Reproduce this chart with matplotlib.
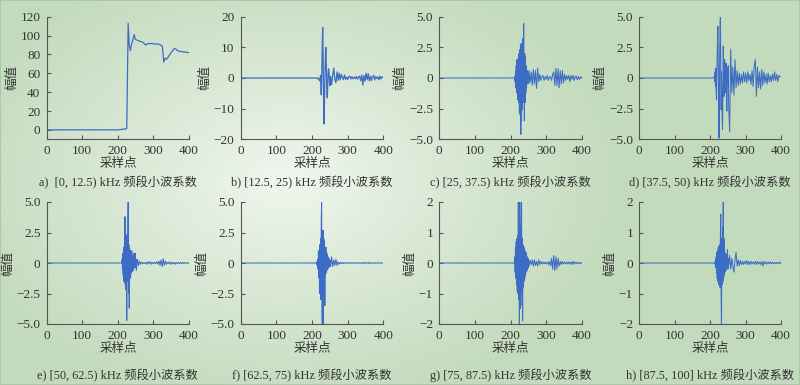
import numpy as np
import matplotlib
matplotlib.use('Agg')
import matplotlib.pyplot as plt
from matplotlib.colors import to_rgb

plt.rcParams['font.family'] = ['Liberation Serif', 'Noto Sans CJK SC']
plt.rcParams['font.size'] = 9

# ---- data (sample index vs amplitude) ----
# a) low band: explicit points
a_x = [0, 200, 222, 225, 229, 232, 235, 238, 242, 246, 249, 255, 262, 270,
       278, 284, 295, 305, 315, 320, 325, 329, 333, 337, 341, 346, 352, 358,
       362, 368, 378, 388, 398]
a_y = [0, 0, 1, 1.5, 113, 90, 84, 90, 95, 101, 96, 95, 94, 93,
       90, 91.5, 91.5, 91, 91, 90, 89, 72, 76, 75, 77, 80, 83, 86,
       86, 84, 83, 82.5, 82]

# b)-h): burst from sample 212 (one value per sample), tail to 400 (every ~3 samples)
burst_start = 212

b_burst = [0, 0, -0.1, 0, -0.2, -0.1, -0.3, -0.4, -0.5, -0.8,
           -1.0, 0.2, 0.8, -2.5, -5.5, -1, 5, 12, 16.5, 8,
           -2, -10, -15, -8, -1, 5, 9, 10, 5, -1,
           -5, -6.5, -3, 1, 2.8, 3, 1, -1.2, -2.5, -1.5]
b_tail = [0.5, -2.2, 1.0, 3.2, -0.5, -1.5, 2.0, -0.8, 1.6, -0.6,
          1.2, 0.2, -0.5, 1.0, -0.4, 0.3, -0.5, 0.4, 0.6, -0.3,
          0.4, -0.3, 0.3, -0.2, 0.5, -0.4, 0.3, 0.6, -0.9, 1.0,
          -2.3, 0.8, -1.0, 1.6, -0.6, 1.4, -0.9, 0.6, -0.8, 0.4,
          0.9, -0.6, 0.5, -0.2, 0.4, -0.6, 0.6, -0.3, 0.4, 0.2]

c_burst = [0.1, -0.3, 0.5, -0.8, 1.0, -1.2, 1.5, -1.0, 0.9, -1.8,
           1.6, -2.0, 2.0, -2.8, 2.3, -3.0, 2.7, -4.6, 2.8, -3.5,
           2.0, -2.6, 3.2, -2.0, -1.0, 4.45, 0.5, -3.5, 2.0, -2.0,
           1.7, -1.2, 1.0, -0.8, 0.5, -0.4, 0.6, -0.5, 0.3, -0.3]
c_tail = [0.6, -0.4, 0.5, -0.6, 0.7, -0.5, 0.6, -0.85, 0.8, -0.3,
          0.3, -0.2, 0.1, 0.2, -0.2, 0.1, -0.1, 0.2, -0.2, 0.1,
          0.1, -0.2, 0.3, 0.5, -0.6, 0.8, -0.65, 0.75, -0.8, 0.6,
          -0.5, 0.6, -0.4, 0.3, -0.2, 0.2, -0.1, 0.2, -0.3, 0.2,
          -0.1, 0.2, -0.2, 0.1, 0.15, -0.15, 0.1, -0.1, 0.1, 0.0]

d_burst = [0.2, -0.3, 0.5, -0.7, 0.8, -1.2, -1.8, 0.5, 2.0, 3.5,
           4.2, 1.0, -2.5, -4.9, -2.0, 2.0, 4.5, 4.95, 1.5, -2.6,
           0.5, -1.0, -3.2, -4.2, -1.0, 2.6, 1.0, -1.5, 0.8, 1.5,
           -0.5, -1.2, 0.5, 1.2, -0.8, -2.7, -1.0, 0.8, -0.5, 1.0]
d_tail = [-2.0, -4.4, 2.35, -1.2, 0.9, -1.4, 1.5, -0.8, 0.6, -0.6,
          0.4, -0.5, 0.3, -0.4, 0.5, -0.3, 0.4, -0.4, 0.5, -0.2,
          0.3, -0.5, 0.6, -0.7, 1.0, 1.5, -1.5, 0.9, -0.8, 0.5,
          -0.9, 0.7, -0.6, 0.5, -0.4, 0.3, -0.5, 0.4, -0.3, 0.2,
          -0.3, 0.3, -0.2, 0.5, -0.2, 0.3, -0.3, 0.2, 0.1, 0.1]

e_burst = [0.3, -0.5, 0.8, -1.0, 1.3, -1.5, 1.2, -1.6, 3.8, -1.8,
           1.5, -2.2, 2.3, -4.7, 1.8, -1.5, 2.5, 5.0, -2.5, 1.5,
           -3.7, 1.2, -1.3, 1.0, -1.1, 0.9, -0.8, 1.0, -0.7, 0.6,
           -0.5, 0.5, -0.6, 0.8, -0.4, 0.5, -0.3, 0.8, -0.4, 0.3]
e_tail = [-0.6, 0.3, -0.2, 0.15, -0.1, 0.05, -0.05, 0.05, -0.05, 0.05,
          -0.1, 0.1, -0.05, 0.1, -0.1, 0.05, -0.05, 0.05, -0.05, 0.1,
          -0.1, 0.15, -0.2, 0.25, -0.3, 0.35, -0.2, 0.15, -0.1, 0.05,
          -0.05, 0.1, -0.1, 0.05, -0.05, 0.05, -0.1, 0.05, -0.05, 0.05,
          -0.05, 0.05, -0.05, 0.05, -0.05, 0.03, -0.03, 0.03, -0.03, 0.0]

f_burst = [0.05, -0.1, 0.1, -0.2, 0.3, -0.5, 1.0, -1.2, 0.8, -2.5,
           1.5, -1.5, 2.0, -3.0, 3.5, 5.0, -4.0, -5.6, 1.5, 2.7,
           -5.6, 2.0, -1.5, 1.8, -3.5, 1.2, -1.0, 1.3, -0.8, 0.9,
           -0.6, 0.7, -0.5, 0.5, -0.4, 0.4, -0.3, 0.3, -0.3, 0.2]
f_tail = [-0.3, 0.5, -0.3, 0.25, -0.2, 0.3, -0.2, 0.1, -0.1, 0.05,
          -0.05, 0.05, -0.05, 0.03, -0.03, 0.02, -0.02, 0.02, -0.02, 0.02,
          -0.02, 0.02, -0.02, 0.02, -0.02, 0.02, -0.02, 0.02, -0.02, 0.02,
          -0.05, 0.05, -0.02, 0.02, -0.02, 0.05, -0.05, 0.02, -0.02, 0.02,
          -0.02, 0.02, -0.02, 0.02, -0.02, 0.01, -0.01, 0.01, -0.01, 0.0]

g_burst = [0.2, -0.3, 0.5, -0.5, 0.7, -0.7, 0.8, -0.9, 0.9, -1.0,
           2.2, -1.2, 1.5, -2.2, 2.2, -1.5, 1.2, -1.4, 1.0, 2.2,
           -1.0, 0.8, -1.9, 0.6, -0.8, 0.5, -0.6, 0.5, -0.5, 0.4,
           -0.4, 0.35, -0.3, 0.3, -0.25, 0.2, -0.2, 0.15, -0.15, 0.1]
g_tail = [-0.1, 0.08, -0.05, 0.1, -0.1, 0.1, -0.08, 0.05, -0.1, 0.1,
          -0.05, 0.05, -0.03, 0.03, -0.03, 0.03, -0.03, 0.03, -0.05, 0.05,
          -0.1, 0.15, -0.2, 0.25, -0.25, 0.2, -0.2, 0.15, -0.1, 0.05,
          -0.05, 0.05, -0.03, 0.03, -0.03, 0.03, -0.03, 0.03, -0.03, 0.03,
          -0.05, 0.05, -0.03, 0.03, -0.02, 0.02, -0.02, 0.02, -0.02, 0.0]

h_burst = [0.0, 0.02, -0.05, 0.1, -0.15, 0.2, -0.3, 0.35, -0.5, 0.4,
           -0.6, 0.5, -0.7, 0.55, -0.6, 0.6, -0.8, 1.0, 1.6, -1.0,
           -2.2, 0.8, -0.7, 1.2, -0.6, 2.0, -0.5, 0.8, -0.4, 0.4,
           -0.3, 0.3, -0.25, 0.3, -0.2, 0.2, -0.15, 0.45, -0.2, 0.15]
h_tail = [-0.15, 0.25, -0.2, 0.15, -0.1, -0.3, 0.1, 0.35, -0.1, 0.1,
          -0.08, 0.08, -0.05, 0.05, -0.05, 0.05, -0.03, 0.08, -0.05, 0.05,
          -0.05, 0.05, -0.03, 0.03, -0.03, 0.05, -0.05, 0.05, -0.03, 0.03,
          -0.05, 0.05, -0.1, 0.05, -0.03, 0.03, -0.03, 0.03, -0.03, 0.03,
          -0.02, 0.02, -0.02, 0.02, -0.02, 0.02, -0.02, 0.02, -0.02, 0.03]

captions = ['a)  [0, 12.5) kHz 频段小波系数', 'b) [12.5, 25) kHz 频段小波系数',
            'c) [25, 37.5) kHz 频段小波系数', 'd) [37.5, 50) kHz 频段小波系数',
            'e) [50, 62.5) kHz 频段小波系数', 'f) [62.5, 75) kHz 频段小波系数',
            'g) [75, 87.5) kHz 频段小波系数', 'h) [87.5, 100] kHz 频段小波系数']

x_ticks = [0, 100, 200, 300, 400]
yt_a = [0, 20, 40, 60, 80, 100, 120]
yt_b = [-20, -10, 0, 10, 20]
yt_5 = [-5, -2.5, 0, 2.5, 5]
yl_5 = ['\u22125.0', '\u22122.5', '0', '2.5', '5.0']
yt_2 = [-2, -1, 0, 1, 2]


def build(burst, tail):
    xb = burst_start + np.arange(len(burst))
    xt = np.linspace(burst_start + len(burst), 400, len(tail))
    x = np.concatenate([[0, burst_start - 1], xb, xt])
    y = np.concatenate([[0, 0], burst, tail])
    return x, y


series = [(np.array(a_x), np.array(a_y)), build(b_burst, b_tail),
          build(c_burst, c_tail), build(d_burst, d_tail),
          build(e_burst, e_tail), build(f_burst, f_tail),
          build(g_burst, g_tail), build(h_burst, h_tail)]
ylims = [(-10, 120), (-20, 20), (-5, 5), (-5, 5), (-5, 5), (-5, 5), (-2, 2), (-2, 2)]
yticks = [yt_a, yt_b, yt_5, yt_5, yt_5, yt_5, yt_2, yt_2]
yticklabels = [None, None, yl_5, yl_5, yl_5, yl_5, None, None]

W, H = 800, 385
fig = plt.figure(figsize=(W / 100, H / 100), dpi=100)

# soft green background with a light centre
bg = fig.add_axes([0, 0, 1, 1], zorder=-10)
gx, gy = np.meshgrid(np.arange(W), np.arange(H))
t = np.clip(np.sqrt(((gx - 285) / 340.0) ** 2 + ((gy - 180) / 230.0) ** 2), 0, 1) ** 0.9
c0 = np.array(to_rgb('#f1f7ef'))
c1 = np.array(to_rgb('#c3dbbd'))
img = c0[None, None, :] * (1 - t[..., None]) + c1[None, None, :] * t[..., None]
bg.imshow(img, extent=[0, W, H, 0], aspect='auto', interpolation='bilinear')
bg.set_xlim(0, W)
bg.set_ylim(H, 0)
bg.axis('off')
fig.patches.append(plt.Rectangle((0, 0), 1, 1, transform=fig.transFigure,
                                 fill=False, edgecolor='#a9c4a5', linewidth=1.2))

cols = [(46.7, 189.0), (240.7, 383.3), (439.3, 581.7), (639.3, 781.0)]
rows = [(16.7, 139.3), (202.0, 324.0)]
cap_y = [182.7, 375.3]

ink = '#333333'
for i, (x, y) in enumerate(series):
    r, c = divmod(i, 4)
    x0, x1 = cols[c]
    top, bot = rows[r]
    ax = fig.add_axes([x0 / W, 1 - bot / H, (x1 - x0) / W, (bot - top) / H])
    ax.set_facecolor('none')
    ax.plot(x, y, color='#3d6cc4', linewidth=0.9 if i < 2 else 0.75)
    ax.set_xlim(0, 400)
    ax.set_ylim(*ylims[i])
    ax.set_xticks(x_ticks)
    ax.set_yticks(yticks[i])
    if yticklabels[i] is not None:
        ax.set_yticklabels(yticklabels[i])
    for s in ['top', 'right']:
        ax.spines[s].set_visible(False)
    for s in ['left', 'bottom']:
        ax.spines[s].set_color('#555555')
        ax.spines[s].set_linewidth(0.8)
    ax.tick_params(direction='in', length=3, width=0.8, color='#555555',
                   labelcolor=ink, labelsize=9.5)
    ax.tick_params(axis='x', pad=4)
    ax.tick_params(axis='y', pad=4.5)
    ax.set_xlabel('采样点', fontsize=9, color=ink, labelpad=1)
    ax.set_ylabel('幅值', fontsize=9, color=ink, labelpad=2)
    fig.text((x0 + x1) / 2 / W, 1 - cap_y[r] / H, captions[i], fontsize=8.8,
             color=ink, ha='center', va='center')

fig.savefig('out.png', dpi=100)
